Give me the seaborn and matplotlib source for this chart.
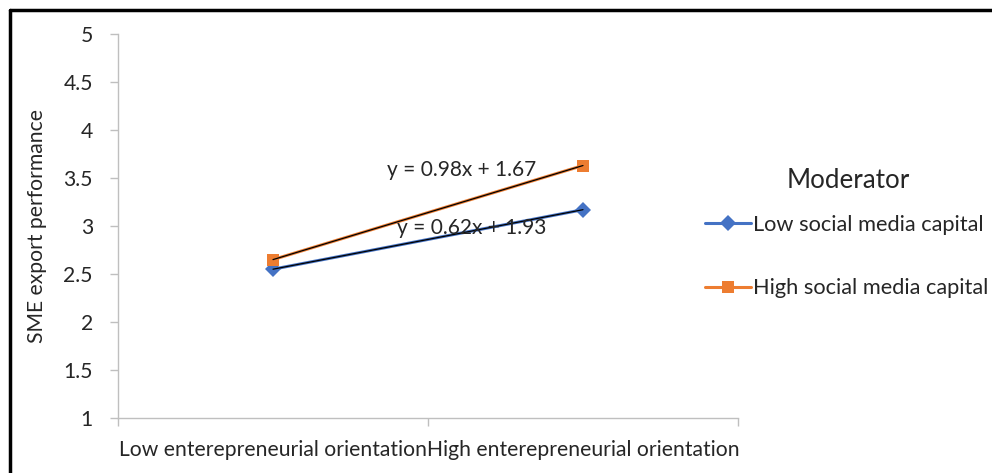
import pandas as pd
import numpy as np
import matplotlib
matplotlib.use('Agg')
import matplotlib.pyplot as plt
from matplotlib.lines import Line2D
import seaborn as sns

# Data
categories = ['Low enterepreneurial orientation', 'High enterepreneurial orientation']
groups = ['Low social media capital', 'High social media capital']
low_smc = [2.55, 3.17]
high_smc = [2.65, 3.63]
equations = ['y = 0.62x + 1.93', 'y = 0.98x + 1.67']

colors = {'Low social media capital': '#4472C4', 'High social media capital': '#ED7D31'}
markers = {'Low social media capital': 'D', 'High social media capital': 's'}

df = pd.DataFrame({
    'x': [0, 1, 0, 1],
    'score': low_smc + high_smc,
    'Moderator': [groups[0]] * 2 + [groups[1]] * 2,
})

sns.set_theme(style='white')
plt.rcParams['font.family'] = ['Lato', 'DejaVu Sans']

fig = plt.figure(figsize=(9.92, 4.73), dpi=100)
ax = fig.add_axes([118 / 992, 1 - 418 / 473, 620 / 992, 384 / 473])

sns.lineplot(data=df, x='x', y='score', hue='Moderator', style='Moderator',
             palette=colors, markers=markers, dashes=False, linewidth=2.2,
             markersize=8, markeredgewidth=0, ax=ax)
ax.lines[1].set_markersize(9)

# linear trendlines
for g in groups:
    sub = df[df['Moderator'] == g]
    sns.regplot(data=sub, x='x', y='score', ci=None, scatter=False, truncate=True,
                line_kws={'color': 'black', 'linewidth': 0.9}, ax=ax)

ax.text(0.610, 3.583, equations[1], ha='center', va='center', fontsize=15)
ax.text(0.641, 2.979, equations[0], ha='center', va='center', fontsize=15)

ax.set_xlim(-0.5, 1.5)
ax.set_ylim(1, 5)
ax.set_yticks(np.arange(1, 5.01, 0.5))
ax.set_yticklabels(['1', '1.5', '2', '2.5', '3', '3.5', '4', '4.5', '5'])
ax.set_xticks([0, 1])
ax.set_xticklabels(categories)
ax.set_xticks([-0.5, 0.5, 1.5], minor=True)
ax.tick_params(axis='x', which='major', length=0, labelsize=15.2, pad=16)
ax.tick_params(axis='x', which='minor', length=6, color='#BFBFBF', width=1, direction='out', bottom=True)
ax.tick_params(axis='y', length=6, color='#BFBFBF', width=1, direction='out', left=True,
               labelsize=15.2, pad=12)
ax.set_xlabel('')
ax.set_ylabel('SME export performance', fontsize=15.2, labelpad=12)

for s in ['top', 'right']:
    ax.spines[s].set_visible(False)
for s in ['left', 'bottom']:
    ax.spines[s].set_color('#BFBFBF')
    ax.spines[s].set_linewidth(1)

# legend: title drawn separately to control the gap
fig.text(848 / 992, 1 - 180 / 473, 'Moderator', ha='center', va='center', fontsize=18.7)
handles, labels = ax.get_legend_handles_labels()
ax.legend(handles, labels, loc='upper left', bbox_to_anchor=(696 / 992, 1 - 206 / 473),
          bbox_transform=fig.transFigure, frameon=False,
          fontsize=15.7, labelspacing=2.0, handlelength=2.1,
          handletextpad=0.1, borderaxespad=0)

# outer frame lines
fig.add_artist(Line2D([10 / 992, 1], [1 - 10 / 473, 1 - 10 / 473], color='black', linewidth=2.5))
fig.add_artist(Line2D([10 / 992, 10 / 992], [0, 1 - 10 / 473], color='black', linewidth=2.5))

fig.savefig('out.png', dpi=100)
